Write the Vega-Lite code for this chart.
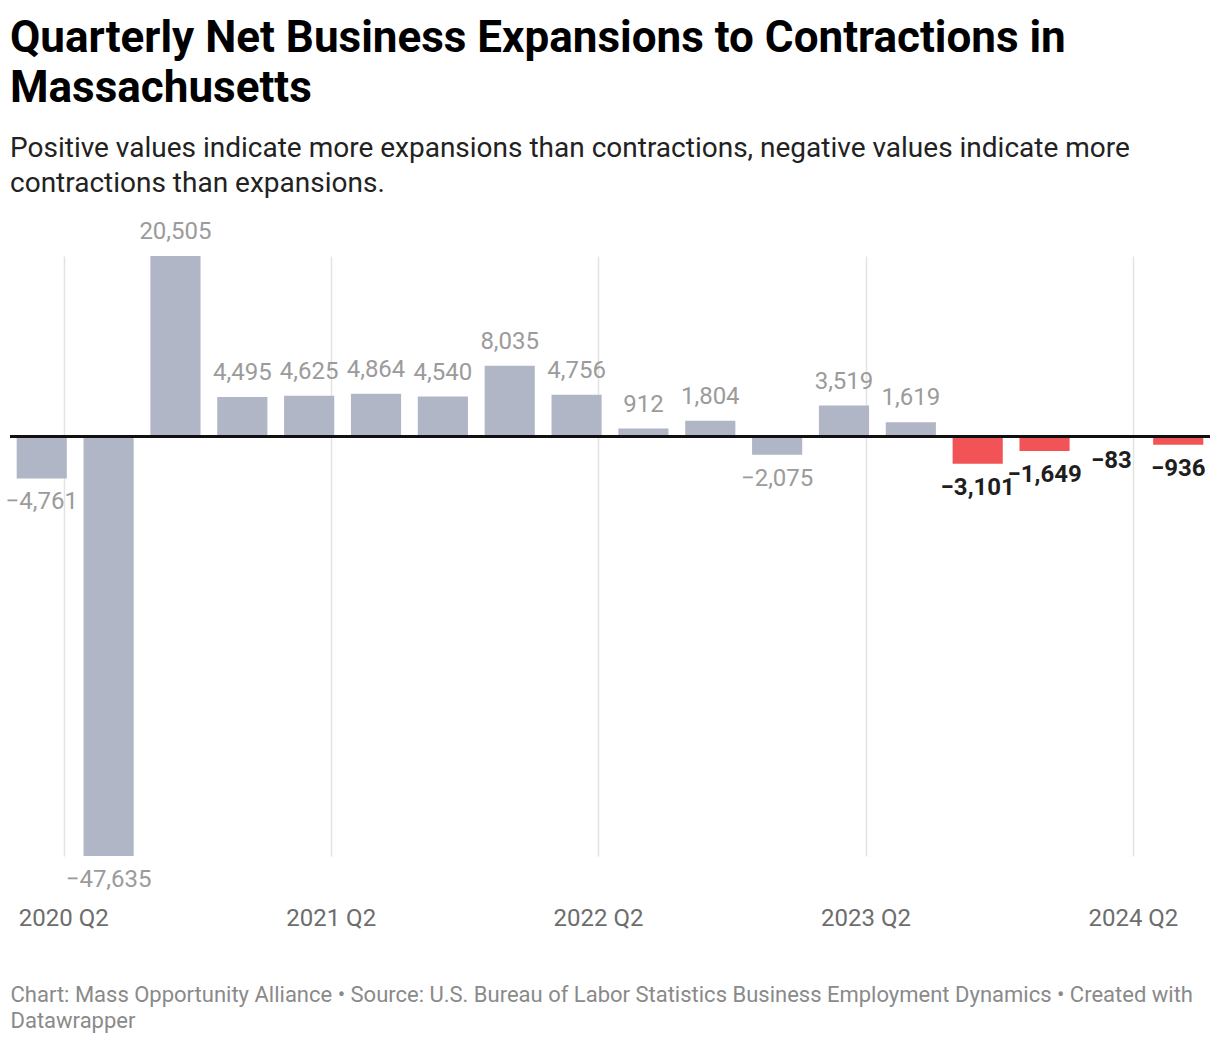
{
  "$schema": "https://vega.github.io/schema/vega-lite/v6.json",
  "width": 1200,
  "height": 600,
  "autosize": {"type": "none"},
  "padding": {"left": 10, "right": 10, "top": 256, "bottom": 186},
  "background": "white",
  "config": {"view": {"stroke": null}},
  "title": {
    "text": ["Quarterly Net Business Expansions to Contractions in", "Massachusetts"],
    "subtitle": ["Positive values indicate more expansions than contractions, negative values indicate more", "contractions than expansions."],
    "anchor": "start",
    "frame": "group",
    "font": "Roboto",
    "fontSize": 44,
    "fontWeight": "bold",
    "color": "#000000",
    "lineHeight": 50,
    "subtitleFont": "Roboto",
    "subtitleFontSize": 28,
    "subtitleColor": "#222222",
    "subtitleLineHeight": 35,
    "subtitlePadding": 24,
    "offset": 22
  },
  "data": {
    "values": [
      {"quarter": "2020 Q2", "value": -4761, "group": "past"},
      {"quarter": "2020 Q3", "value": -47635, "group": "past"},
      {"quarter": "2020 Q4", "value": 20505, "group": "past"},
      {"quarter": "2021 Q1", "value": 4495, "group": "past"},
      {"quarter": "2021 Q2", "value": 4625, "group": "past"},
      {"quarter": "2021 Q3", "value": 4864, "group": "past"},
      {"quarter": "2021 Q4", "value": 4540, "group": "past"},
      {"quarter": "2022 Q1", "value": 8035, "group": "past"},
      {"quarter": "2022 Q2", "value": 4756, "group": "past"},
      {"quarter": "2022 Q3", "value": 912, "group": "past"},
      {"quarter": "2022 Q4", "value": 1804, "group": "past"},
      {"quarter": "2023 Q1", "value": -2075, "group": "past"},
      {"quarter": "2023 Q2", "value": 3519, "group": "past"},
      {"quarter": "2023 Q3", "value": 1619, "group": "past"},
      {"quarter": "2023 Q4", "value": -3101, "group": "recent"},
      {"quarter": "2024 Q1", "value": -1649, "group": "recent"},
      {"quarter": "2024 Q2", "value": -83, "group": "recent"},
      {"quarter": "2024 Q3", "value": -936, "group": "recent"}
    ]
  },
  "encoding": {
    "x": {
      "field": "quarter",
      "type": "ordinal",
      "sort": null,
      "scale": {"paddingInner": 0.25, "paddingOuter": 0.1},
      "axis": {
        "values": ["2020 Q2", "2021 Q2", "2022 Q2", "2023 Q2", "2024 Q2"],
        "bandPosition": 0.945,
        "labelAngle": 0,
        "labelOffset": 22,
        "labelFont": "Roboto",
        "labelFontSize": 24,
        "labelColor": "#6d6d6d",
        "labelPadding": 50,
        "ticks": false,
        "domain": false,
        "grid": true,
        "gridColor": "#e3e3e3",
        "gridWidth": 1.5,
        "title": ["Chart: Mass Opportunity Alliance • Source: U.S. Bureau of Labor Statistics Business Employment Dynamics • Created with", "Datawrapper"],
        "titleFont": "Roboto",
        "titleFontSize": 22,
        "titleFontWeight": "normal",
        "titleColor": "#8a8a8a",
        "titleAnchor": "start",
        "titleAlign": "left",
        "titleBaseline": "alphabetic",
        "titleX": 0,
        "titleY": 145,
        "titleLineHeight": 26
      }
    }
  },
  "layer": [
    {
      "mark": {"type": "bar"},
      "encoding": {
        "y": {
          "field": "value",
          "type": "quantitative",
          "scale": {"domain": [-47635, 20505], "nice": false, "zero": true},
          "axis": null
        },
        "color": {
          "field": "group",
          "type": "nominal",
          "scale": {"domain": ["past", "recent"], "range": ["#b0b6c6", "#f25356"]},
          "legend": null
        }
      }
    },
    {
      "mark": {"type": "rule", "color": "#111111", "strokeWidth": 2},
      "encoding": {"y": {"datum": 0}, "x": null}
    },
    {
      "transform": [{"filter": "datum.value > 0"}],
      "mark": {"type": "text", "font": "Roboto", "fontSize": 24, "color": "#9b9b9b", "baseline": "middle", "dy": -24},
      "encoding": {
        "y": {"field": "value", "type": "quantitative"},
        "text": {"field": "value", "type": "quantitative", "format": ","}
      }
    },
    {
      "transform": [{"filter": "datum.value < 0 && datum.group == 'past'"}],
      "mark": {"type": "text", "font": "Roboto", "fontSize": 24, "color": "#9b9b9b", "baseline": "middle", "dy": 24},
      "encoding": {
        "y": {"field": "value", "type": "quantitative"},
        "text": {"field": "value", "type": "quantitative", "format": ","}
      }
    },
    {
      "transform": [{"filter": "datum.group == 'recent'"}],
      "mark": {"type": "text", "font": "Roboto", "fontSize": 24, "fontWeight": "bold", "color": "#1e1e1e", "baseline": "middle", "dy": 24},
      "encoding": {
        "y": {"field": "value", "type": "quantitative"},
        "text": {"field": "value", "type": "quantitative", "format": ","}
      }
    }
  ]
}
